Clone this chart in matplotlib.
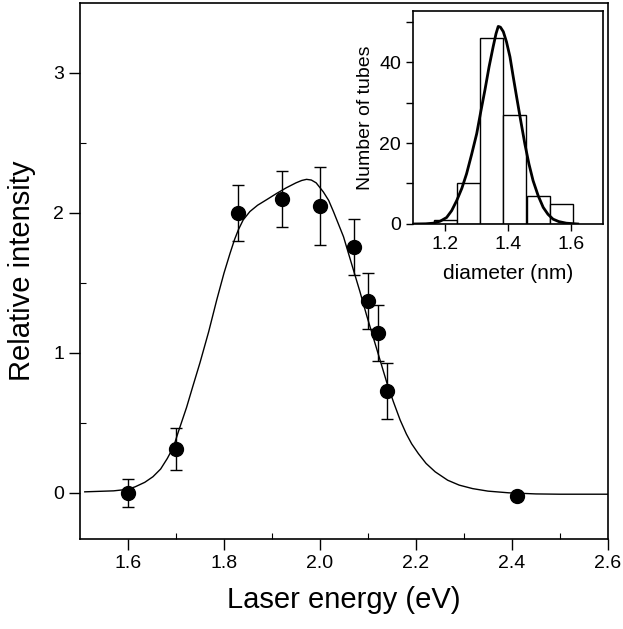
import numpy as np
import matplotlib
matplotlib.use("Agg")
from matplotlib import pyplot as plt

plt.rcParams['font.family'] = ['Liberation Sans', 'DejaVu Sans']

# measured points (laser energy, relative intensity, error)
energy = [1.60, 1.70, 1.83, 1.92, 2.00, 2.07, 2.10, 2.12, 2.14, 2.41]
intensity = [0.00, 0.31, 2.00, 2.10, 2.05, 1.76, 1.37, 1.14, 0.73, -0.02]
err = [0.10, 0.15, 0.20, 0.20, 0.28, 0.20, 0.20, 0.20, 0.20, 0.0]

# fit curve
fit_e = [1.51, 1.57, 1.60, 1.615, 1.635, 1.652, 1.668, 1.682, 1.695, 1.705,
         1.722, 1.735, 1.75, 1.768, 1.785, 1.80, 1.8125, 1.822, 1.83, 1.84,
         1.854, 1.87, 1.889, 1.91, 1.93, 1.95, 1.962, 1.972, 1.982, 1.992,
         2.007, 2.018, 2.028, 2.049, 2.069, 2.083, 2.097, 2.111, 2.125, 2.139,
         2.153, 2.167, 2.18, 2.191, 2.205, 2.221, 2.24, 2.266, 2.29, 2.318,
         2.35, 2.393, 2.45, 2.5, 2.6]
fit_i = [0.007, 0.014, 0.025, 0.043, 0.075, 0.115, 0.17, 0.246, 0.33, 0.437,
         0.61, 0.76, 0.93, 1.15, 1.38, 1.57, 1.71, 1.81, 1.88, 1.95,
         2.01, 2.055, 2.095, 2.14, 2.18, 2.215, 2.232, 2.24, 2.235, 2.215,
         2.15, 2.09, 2.01, 1.83, 1.60, 1.44, 1.27, 1.11, 0.95, 0.79,
         0.65, 0.52, 0.42, 0.35, 0.28, 0.21, 0.15, 0.09, 0.055, 0.03,
         0.012, 0.0, -0.008, -0.01, -0.01]

# inset histogram
bin_centers = [1.203, 1.276, 1.348, 1.421, 1.495, 1.569]
counts = [1, 10, 46, 27, 7, 5]
bin_width = 0.073
gauss_d = [1.101, 1.14, 1.164, 1.186, 1.206, 1.222, 1.238, 1.254, 1.269, 1.285,
           1.301, 1.314, 1.327, 1.34, 1.353, 1.362, 1.369, 1.376, 1.385, 1.395,
           1.406, 1.416, 1.427, 1.44, 1.453, 1.466, 1.479, 1.495, 1.511, 1.526,
           1.542, 1.56, 1.584, 1.62]
gauss_n = [0.0, 0.05, 0.2, 0.7, 1.6, 3.3, 5.8, 8.8, 12.4, 17.2,
           22.3, 27.8, 33.1, 38.8, 43.8, 47.0, 48.8, 48.6, 47.5, 45.0,
           41.3, 36.5, 31.4, 25.5, 19.8, 14.8, 10.7, 7.0, 4.1, 2.4,
           1.2, 0.6, 0.2, 0.0]

fig = plt.figure(figsize=(6.23, 6.29), dpi=100)
ax = fig.add_axes([0.1284, 0.1431, 0.8475, 0.8521])

ax.plot(fit_e, fit_i, color='black', lw=1.0)
ax.errorbar(energy, intensity, yerr=[e if e > 0 else np.nan for e in err],
            fmt='o', color='black', ms=10, capsize=4, elinewidth=1, capthick=1)

ax.set_xlim(1.5, 2.6)
ax.set_ylim(-0.33, 3.5)
ax.set_xticks([1.6, 1.8, 2.0, 2.2, 2.4, 2.6])
ax.set_xticklabels(['1.6', '1.8', '2.0', '2.2', '2.4', '2.6'])
ax.set_xticks([1.7, 1.9, 2.1, 2.3, 2.5], minor=True)
ax.set_yticks([0, 1, 2, 3])
ax.set_yticks([0.5, 1.5, 2.5], minor=True)
ax.tick_params(which='major', direction='out', length=8, width=1, labelsize=14)
ax.tick_params(which='minor', direction='in', length=4, width=0.8)
ax.set_xlabel('Laser energy (eV)', fontsize=21, labelpad=10)
ax.set_ylabel('Relative intensity', fontsize=21, labelpad=12)
for s in ax.spines.values():
    s.set_linewidth(1.2)

# inset
ins = fig.add_axes([0.663, 0.6439, 0.305, 0.3386])
ins.set_facecolor('white')
ins.bar(bin_centers, counts, width=bin_width, color='white', edgecolor='black', lw=1)
ins.plot(gauss_d, gauss_n, color='black', lw=2)
ins.set_xlim(1.1, 1.7)
ins.set_ylim(0, 52.6)
ins.set_xticks([1.2, 1.4, 1.6])
ins.set_yticks([0, 20, 40])
ins.set_yticks([10, 30, 50], minor=True)
ins.tick_params(which='both', direction='out', length=5, width=1, labelsize=14)
ins.set_xlabel('diameter (nm)', fontsize=15, labelpad=8)
ins.set_ylabel('Number of tubes', fontsize=14)
for s in ins.spines.values():
    s.set_linewidth(1.2)

fig.savefig('out.png', dpi=100)
